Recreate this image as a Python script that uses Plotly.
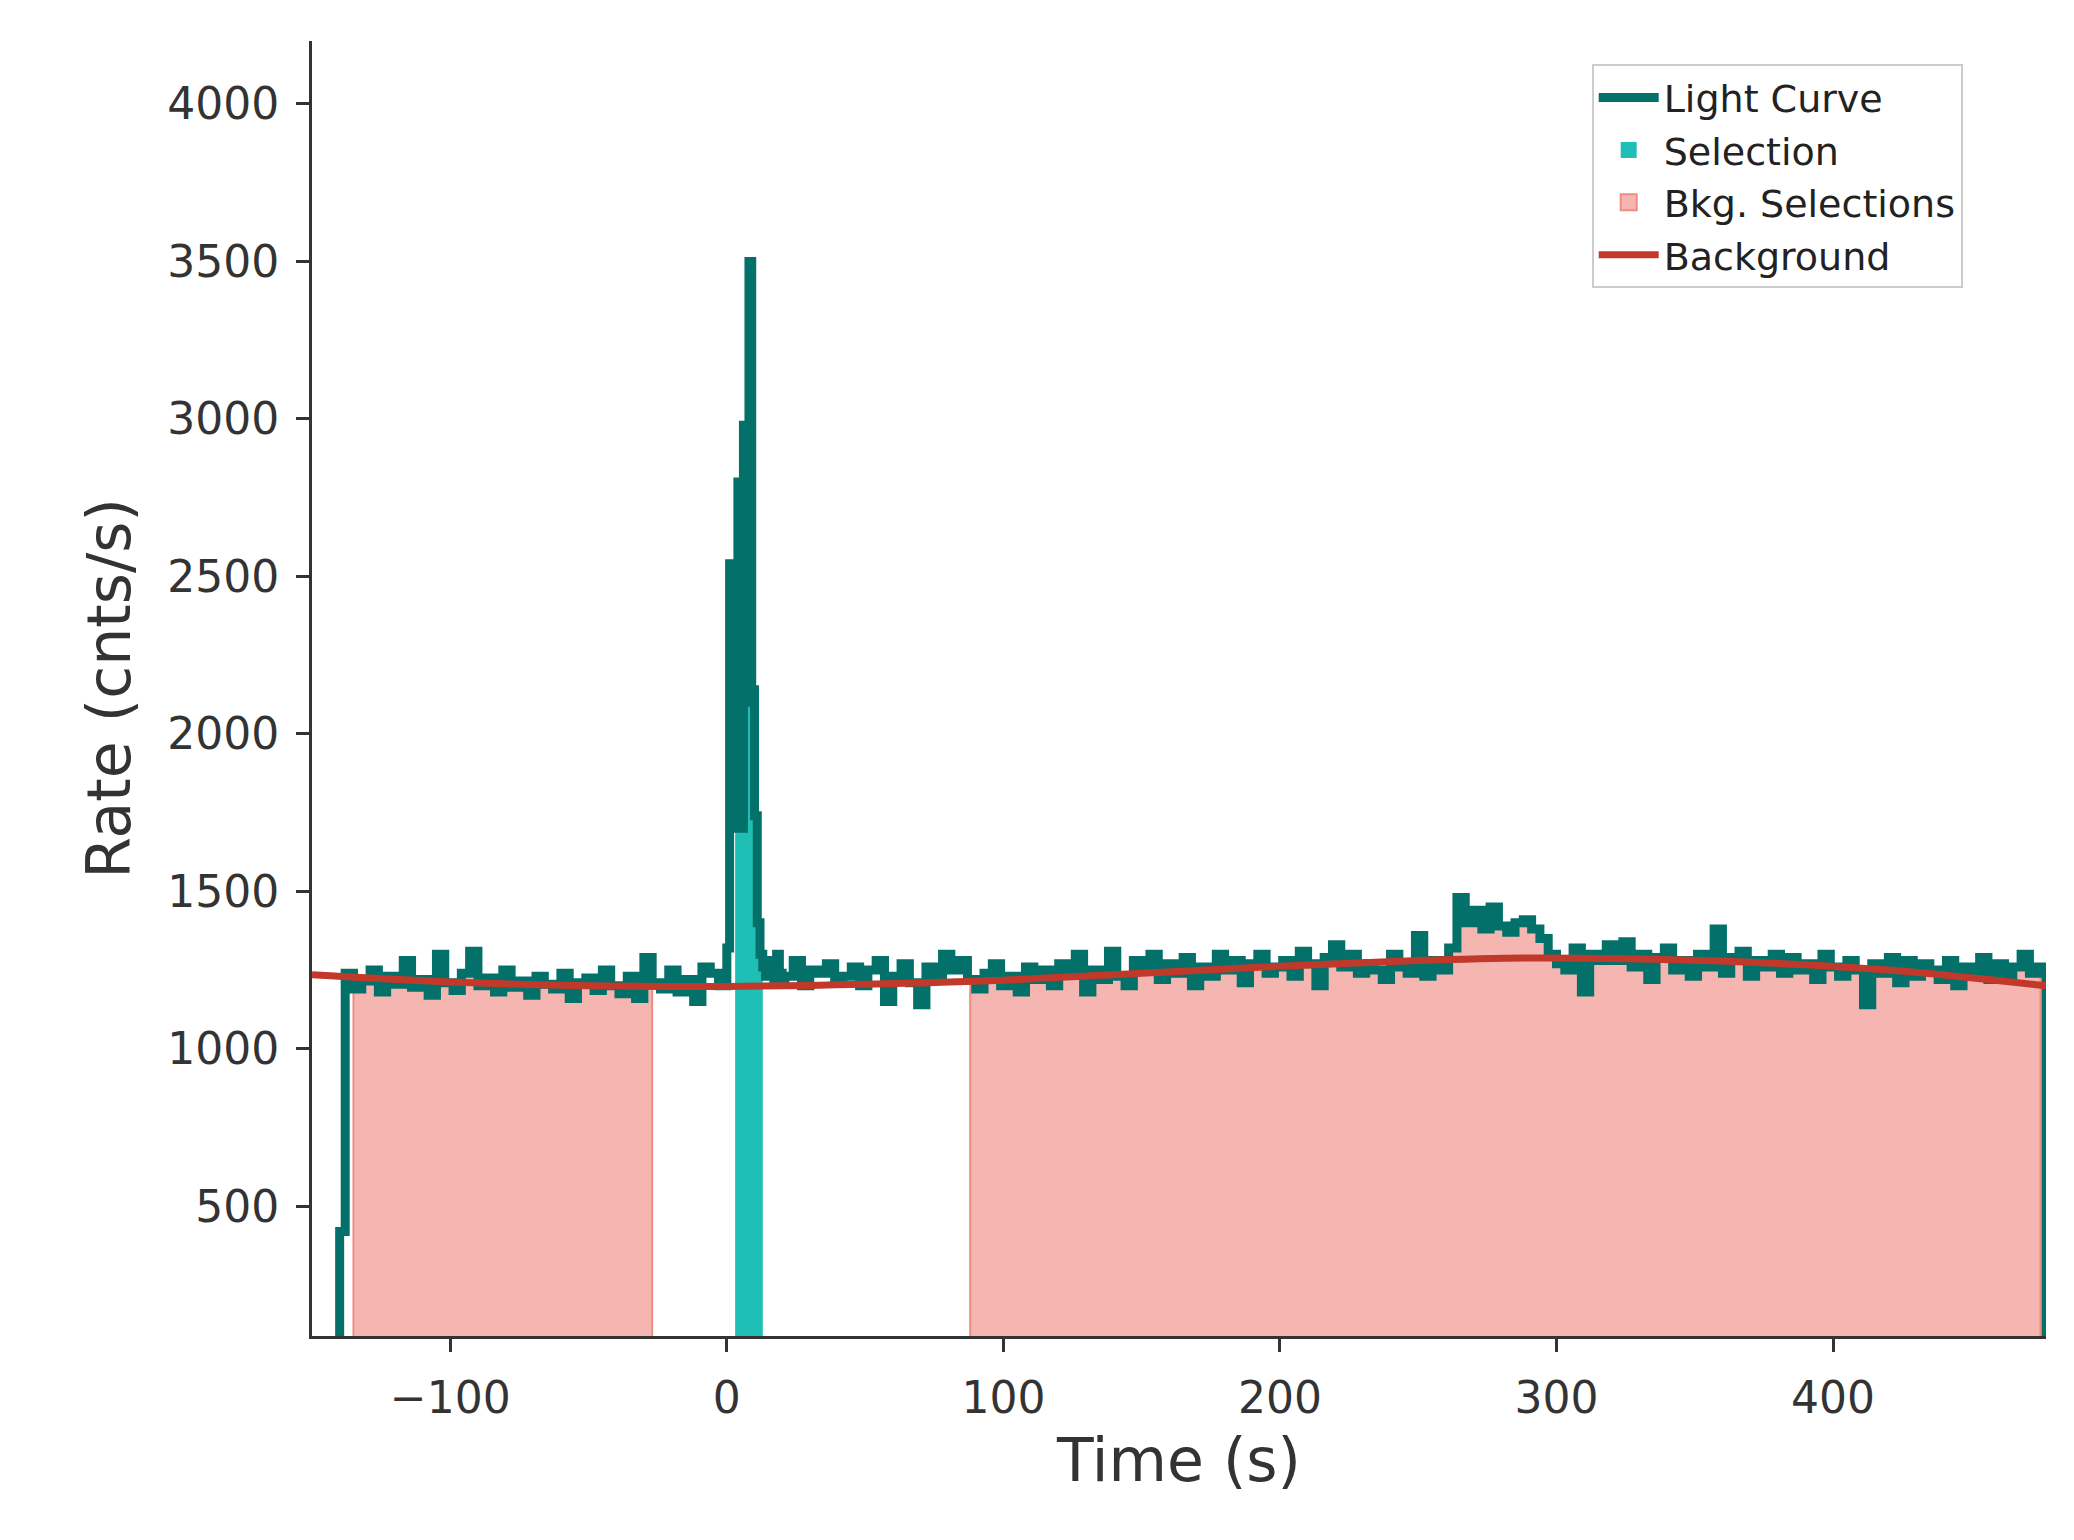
import numpy as np
import plotly.graph_objects as go

# ---- data ----
first_bin = [-140, -138, 420]
rates_pre = [1240,1190,1215,1250,1180,1230,1205,1280,1195,1220,1170,1300,1210,1185,1240,1310,1200,1225,1180,1250,1195,1215,1170,1230,1205,1190,1240,1160,1210,1225,1185,1250,1200,1175,1230,1160,1290,1210,1190,1250,1180,1220,1150,1260,1240,1200]
rates_peak = [1320,2540,1700,2520,2800,1700,2980,2100,3500,2140,1740,1400,1300,1260,1230,1280,1250,1220,1300,1240,1210]
rates_post = [1230,1280,1200,1250,1240,1270,1210,1230,1260,1200,
              1250,1280,1150,1230,1270,1210,1140,1260,1220,1300,
              1250,1280,1220,1190,1240,1270,1200,1230,1180,1260,
              1220,1250,1200,1270,1240,1300,1180,1250,1220,1310,
              1230,1200,1280,1260,1300,1220,1270,1240,1290,1200,
              1260,1230,1300,1250,1280,1210,1270,1300,1240,1260,
              1280,1230,1310,1270,1200,1290,1330,1260,1300,1240,
              1270,1250,1220,1300,1260,1240,1360,1230,1280,1250,
              1320,1480,1400,1440,1380,1450,1390,1370,1400,1410,
              1380,1350,1300,1270,1250,1320,1180,1300,1280,1330,
              1280,1340,1260,1300,1220,1290,1320,1250,1280,1230,
              1300,1260,1380,1240,1290,1310,1230,1280,1260,1300,
              1240,1290,1250,1270,1220,1300,1260,1230,1280,1250,
              1140,1270,1240,1290,1210,1280,1230,1270,1250,1220,
              1280,1200,1260,1240,1290,1220,1270,1230,1260,1300,
              1240,1260,1280]
bkg_t = [-150, -100, -50, 0, 50, 100, 150, 200, 250, 290, 330, 370, 420, 477]
bkg_r = [1235, 1212, 1200, 1198, 1205, 1218, 1240, 1262, 1280, 1288, 1285, 1275, 1250, 1200]
sel_range = [3, 13]
bkg_ranges = [[-135, -27], [88, 475]]
t_end = 477

bins = [tuple(first_bin)]
bins += [(-138 + 3*k, -135 + 3*k, r) for k, r in enumerate(rates_pre)]
bins += [(k, k + 1, r) for k, r in enumerate(rates_peak)]
bins += [(21 + 3*k, min(24 + 3*k, t_end), r) for k, r in enumerate(rates_post)]

def steps(lo, hi):
    xs, ys = [], []
    for a, b, r in bins:
        a2, b2 = max(a, lo), min(b, hi)
        if b2 > a2:
            xs += [a2, b2]; ys += [r, r]
    return xs, ys

lc_x, lc_y = steps(-1e9, 1e9)
lc_x = [lc_x[0]] + lc_x + [lc_x[-1]]
lc_y = [0] + lc_y + [0]

BKG_FILL, BKG_EDGE, SEL, LC, BG = "#f5b6b1", "#f08c84", "#20bfb6", "#04706a", "#c0392b"

fig = go.Figure()
for lo, hi in bkg_ranges:
    x, y = steps(lo, hi)
    fig.add_trace(go.Scatter(x=[x[0]] + x + [x[-1]], y=[0] + y + [0], mode="lines",
                             line=dict(color=BKG_EDGE, width=2), fill="toself",
                             fillcolor=BKG_FILL, showlegend=False))
x, y = steps(*sel_range)
fig.add_trace(go.Scatter(x=[x[0]] + x + [x[-1]], y=[0] + y + [0], mode="lines",
                         line=dict(color=SEL, width=0), fill="toself",
                         fillcolor=SEL, showlegend=False))
fig.add_trace(go.Scatter(x=lc_x, y=lc_y, mode="lines", line=dict(color=LC, width=9),
                         name="Light Curve", legendrank=1))
fig.add_trace(go.Scatter(x=[None], y=[None], mode="markers",
                         marker=dict(symbol="square", size=30, color=SEL),
                         name="Selection", legendrank=2))
fig.add_trace(go.Scatter(x=[None], y=[None], mode="markers",
                         marker=dict(symbol="square", size=30, color=BKG_FILL, line=dict(color=BKG_EDGE, width=2)),
                         name="Bkg. Selections", legendrank=3))
fig.add_trace(go.Scatter(x=bkg_t, y=bkg_r, mode="lines", line=dict(color=BG, width=7, shape="spline"),
                         name="Background", legendrank=4))

axis = dict(showline=True, linecolor="#333333", linewidth=3, ticks="outside", ticklen=13,
            tickwidth=3, tickcolor="#333333", showgrid=False, zeroline=False, ticklabelstandoff=8,
            tickfont=dict(size=44, color="#333333"), title_font=dict(size=60, color="#333333"))
fig.update_layout(
    width=2074, height=1540, plot_bgcolor="white", paper_bgcolor="white",
    font=dict(family="DejaVu Sans"),
    margin=dict(l=304, r=36, t=33, b=212),
    xaxis=dict(axis, range=[-150, 477], tickvals=[-100, 0, 100, 200, 300, 400],
               ticktext=["\u2212100", "0", "100", "200", "300", "400"], title_text="Time (s)",
               title_standoff=18),
    yaxis=dict(axis, range=[88, 4200], tickvals=[500, 1000, 1500, 2000, 2500, 3000, 3500, 4000],
               title_text="Rate (cnts/s)", title_standoff=18),
    legend=dict(x=0.738, y=0.982, xanchor="left", yanchor="top", font=dict(size=38, color="#222"),
                bordercolor="#cccccc", borderwidth=2, bgcolor="rgba(255,255,255,0.9)",
                itemwidth=60, itemsizing="trace"),
    showlegend=True,
)
fig.write_html("out.html")
